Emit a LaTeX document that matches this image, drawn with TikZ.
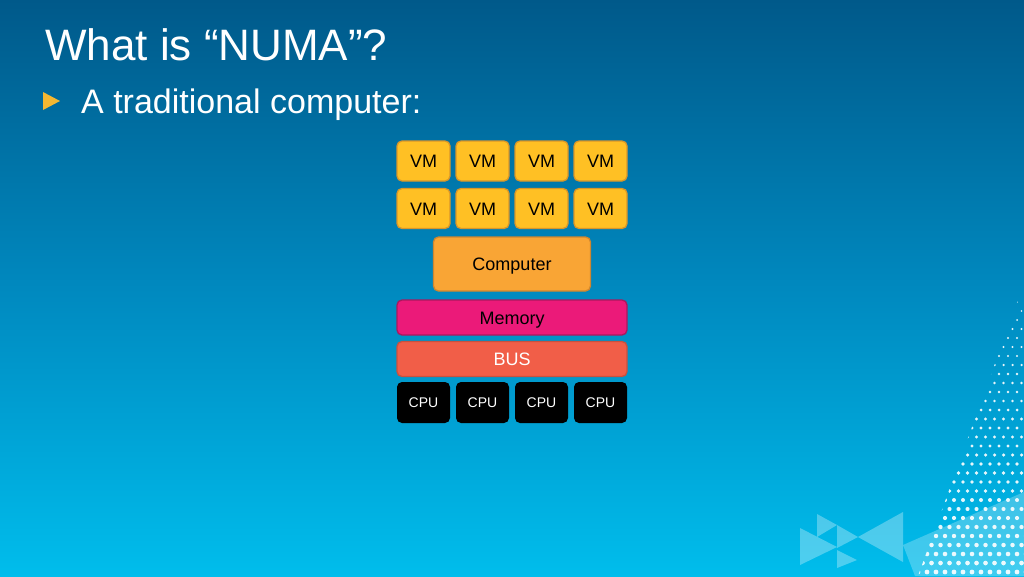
\documentclass[tikz,border=0pt]{standalone}
\usepackage{fontspec}
\setmainfont{Liberation Sans}
\usepackage{tikz}
\usetikzlibrary{positioning}
\definecolor{bgtop}{HTML}{00598A}
\definecolor{bgmid}{HTML}{0089BF}
\definecolor{bgbot}{HTML}{00BDEC}
\definecolor{vmyellow}{HTML}{FFC024}
\definecolor{vmedge}{HTML}{D9962A}
\definecolor{comporange}{HTML}{F9A535}
\definecolor{compedge}{HTML}{D0862E}
\definecolor{memmagenta}{HTML}{EB1A79}
\definecolor{memedge}{HTML}{A8195E}
\definecolor{busred}{HTML}{F15E48}
\definecolor{busedge}{HTML}{C9513F}
\definecolor{bulletyellow}{HTML}{F4B731}

\begin{document}
\begin{tikzpicture}[x=1pt, y=-1pt,
  vm/.style={rounded corners=5pt, minimum width=53pt, minimum height=40pt,
             draw=vmedge, line width=1.3pt, fill=vmyellow, inner sep=0pt,
             text height=13pt, text depth=0pt,
             font=\fontsize{18}{20}\selectfont, text=black},
  bar/.style={rounded corners=5pt, minimum width=230pt, minimum height=35pt,
              line width=1.3pt, inner sep=0pt, text height=13pt, text depth=0pt,
              font=\fontsize{18}{20}\selectfont},
  cpu/.style={rounded corners=5pt, minimum width=53pt, minimum height=41pt,
              fill=black, inner sep=0pt, text=white, font=\fontsize{14}{16}\selectfont}
]
  % background
  \useasboundingbox (0,0) rectangle (1024,576);
  \shade[top color=bgtop, bottom color=bgbot, middle color=bgmid] (0,0) rectangle (1024,576);

  % decoration, bottom right
  \fill[white, opacity=0.25] (903,545) -- (1024,492) -- (1024,576) -- (915,576) -- cycle;
  \begin{scope}
    \clip (1018,300) -- (1024,300) -- (1024,576) -- (918,576) -- cycle;
    \foreach \j in {0,...,31} {
      \foreach \i in {0,...,12} {
        \fill[white, opacity=0.9]
          ({1026 - \i*9 - mod(\j,2)*4.5}, {302 + \j*9}) circle ({0.9 + 0.05*\j});
      }
    }
  \end{scope}
  \fill[white, opacity=0.3] (817,514) -- (837,525) -- (817,537) -- cycle;
  \fill[white, opacity=0.3] (800,528) -- (837,547) -- (800,565) -- cycle;
  \fill[white, opacity=0.3] (837,525) -- (858,537) -- (837,548) -- cycle;
  \fill[white, opacity=0.3] (858,537) -- (903,512) -- (903,562) -- cycle;
  \fill[white, opacity=0.3] (837,550) -- (857,560) -- (837,568) -- cycle;

  % title
  \node[anchor=base west, inner sep=0pt, text=white, font=\fontsize{44}{48}\selectfont]
    (title) at (45,60) {What is “NUMA”?};
  \fill[bulletyellow] (43,92) -- (60,101) -- (43,110) -- cycle;
  \node[anchor=base west, inner sep=0pt, text=white, font=\fontsize{34}{38}\selectfont]
    (sub) at (81,113) {A traditional computer:};

  % VMs
  \node[vm] (vm1) at (423.5,161) {VM};
  \node[vm] (vm2) at (482.5,161) {VM};
  \node[vm] (vm3) at (541.5,161) {VM};
  \node[vm] (vm4) at (600.5,161) {VM};
  \node[vm] (vm5) at (423.5,208.5) {VM};
  \node[vm] (vm6) at (482.5,208.5) {VM};
  \node[vm] (vm7) at (541.5,208.5) {VM};
  \node[vm] (vm8) at (600.5,208.5) {VM};

  % computer, memory, bus
  \node[vm, draw=compedge, fill=comporange, minimum width=157pt, minimum height=54pt]
    (comp) at (512,264) {Computer};
  \node[bar, draw=memedge, fill=memmagenta, text=black] (mem) at (512,317.5) {Memory};
  \node[bar, draw=busedge, fill=busred, text=white] (bus) at (512,359) {BUS};

  % CPUs
  \node[cpu] (cpu1) at (423.5,402.5) {CPU};
  \node[cpu] (cpu2) at (482.5,402.5) {CPU};
  \node[cpu] (cpu3) at (541.5,402.5) {CPU};
  \node[cpu] (cpu4) at (600.5,402.5) {CPU};
\end{tikzpicture}
\end{document}
